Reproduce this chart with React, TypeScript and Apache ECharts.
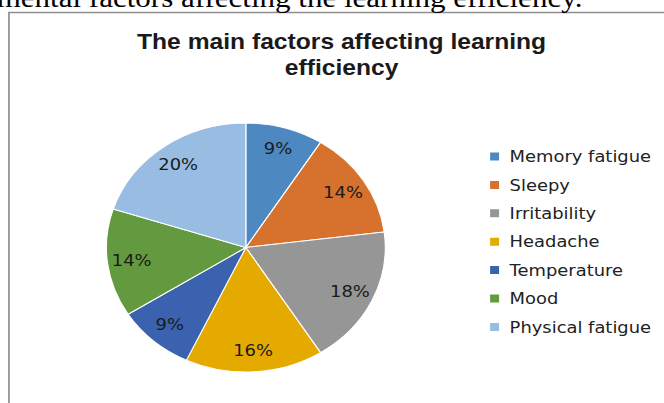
import React, { useEffect, useRef } from "react";
import * as echarts from "echarts";

const categories = [
  "Memory fatigue",
  "Sleepy",
  "Irritability",
  "Headache",
  "Temperature",
  "Mood",
  "Physical fatigue",
];
const values = [9, 14, 18, 16, 9, 14, 20];
const colors = ["#4e88c0", "#d6712e", "#969696", "#e4aa00", "#3a62ae", "#63993f", "#99bce2"];
const titleText = "The main factors affecting learning\nefficiency";
const captionText = "environmental factors affecting the learning efficiency.";

const STRETCH = 1.12;
const W = 664 / STRETCH;
const H = 403;

export default function App() {
  const ref = useRef<HTMLDivElement>(null);
  useEffect(() => {
    if (!ref.current) return;
    const chart = echarts.init(ref.current, undefined, { renderer: "svg", width: W, height: H });
    const data = categories.map((name, i) => ({
      name,
      value: values[i],
      itemStyle: { color: colors[i] },
    }));
    const center = [219.5, 247.5];
    const R = 124.5;
    chart.setOption({
      animation: false,
      backgroundColor: "#ffffff",
      color: colors,
      graphic: [
        {
          type: "rect",
          shape: { x: 8, y: 12.5, width: 800, height: 500 },
          style: { fill: "none", stroke: "#8e8e8e", lineWidth: 1.5 },
          z: 0,
        },
        {
          type: "text",
          x: 520,
          y: -2.3,
          style: {
            text: captionText,
            fontFamily: "'Liberation Serif', 'Times New Roman', serif",
            fontSize: 27.7,
            fill: "#000",
            textAlign: "right",
            textVerticalAlign: "middle",
          },
        },
        {
          type: "text",
          x: 305,
          y: 28,
          style: {
            text: titleText,
            fontFamily: "'Liberation Sans', Arial, sans-serif",
            fontSize: 22,
            fontWeight: "bold",
            lineHeight: 26.5,
            fill: "#1a1a1a",
            textAlign: "center",
            textVerticalAlign: "top",
          },
        },
      ],
      legend: {
        data: categories,
        orient: "vertical",
        left: 430.6,
        top: 143.5,
        itemWidth: 10,
        itemHeight: 10,
        icon: "rect",
        itemGap: 12.4,
        selectedMode: false,
        textStyle: {
          fontFamily: "'DejaVu Sans', sans-serif",
          fontSize: 16,
          lineHeight: 16,
          color: "#222",
          padding: [0, 0, 0, 3.4],
        },
      },
      series: [
        {
          type: "pie",
          center,
          radius: [0, R],
          startAngle: 90,
          clockwise: true,
          label: { show: false },
          labelLine: { show: false },
          itemStyle: { borderColor: "#ffffff", borderWidth: 1 },
          emphasis: { disabled: true },
          data,
        },
        {
          type: "pie",
          center,
          radius: [75, R],
          startAngle: 90,
          clockwise: true,
          silent: true,
          itemStyle: { color: "rgba(0,0,0,0)", borderWidth: 0 },
          label: {
            show: true,
            position: "inside",
            formatter: "{c}%",
            fontFamily: "'DejaVu Sans', sans-serif",
            fontSize: 16,
            color: "#1a1a1a",
          },
          labelLine: { show: false },
          emphasis: { disabled: true },
          data: categories.map((name, i) => ({ name, value: values[i] })),
        },
      ],
    });
    return () => chart.dispose();
  }, []);
  return (
    <div
      ref={ref}
      style={{
        position: "absolute",
        left: 0,
        top: 0,
        width: W,
        height: H,
        transform: `scaleX(${STRETCH})`,
        transformOrigin: "0 0",
        overflow: "hidden",
      }}
    />
  );
}
